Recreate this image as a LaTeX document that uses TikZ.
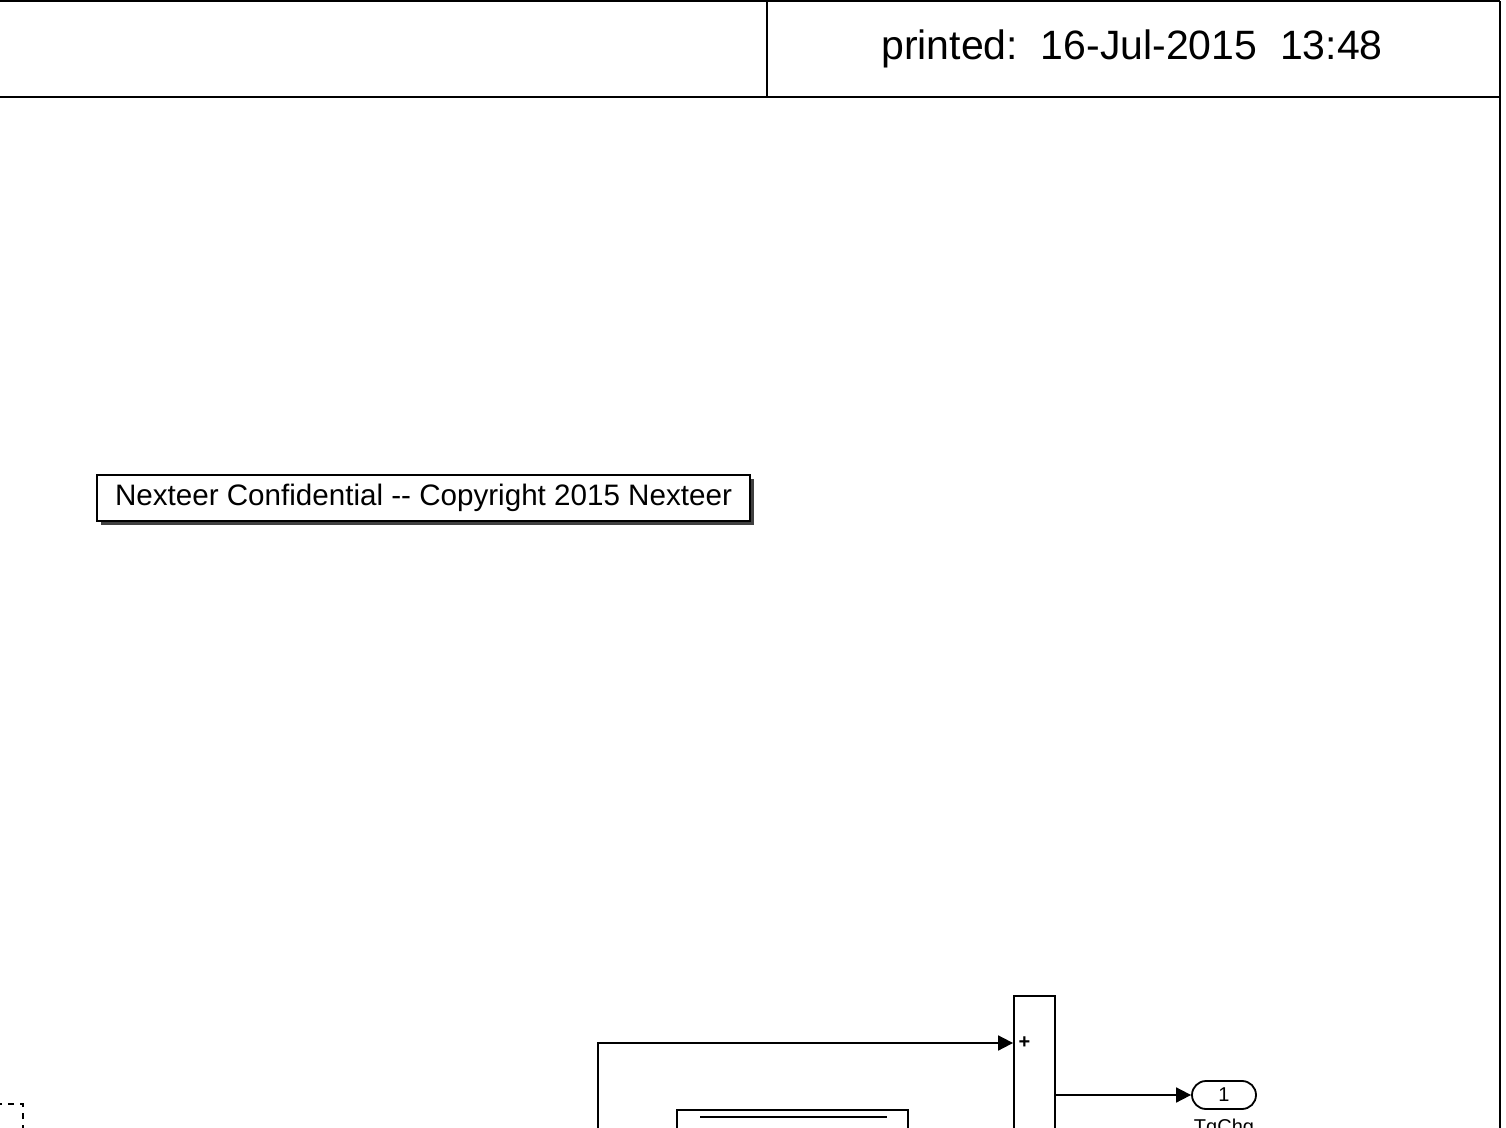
\documentclass[tikz,border=0pt]{standalone}
\usepackage{fontspec}
\setmainfont{Liberation Sans}
\usetikzlibrary{arrows.meta,positioning,shadows}
\tikzset{frame/.style={draw, line width=1.3pt}}
\tikzset{blk/.style={draw, line width=0.9pt, fill=white, inner sep=0pt}}
\tikzset{line/.style={draw, line width=0.9pt, -{Triangle[length=7.5pt,width=7.5pt]}}}
\tikzset{port/.style={draw, line width=0.9pt, rounded corners=7pt, minimum width=32pt, minimum height=14pt, inner sep=0pt, font=\fontsize{10}{12}\selectfont}}

\begin{document}
\begin{tikzpicture}[x=0.5pt, y=-0.5pt]
        \useasboundingbox (0,0) rectangle (1506,1128);
        \clip (0,0) rectangle (1506,1128);
        % header
        \draw [frame] (0,1) -- (1500,1);
        \draw [frame] (0,97) -- (1500,97);
        \draw [frame] (767,1) -- (767,97);
        \draw [frame] (1500,1) -- (1500,1130);
        \node [font=\fontsize{20.5}{24}\selectfont] (date) at (1132,49) {printed:\ \ 16-Jul-2015\ \ 13:48};
        %
        \node [blk, minimum width=326.5pt, minimum height=23pt, font=\fontsize{14.8}{17}\selectfont,
               drop shadow={shadow xshift=2pt, shadow yshift=-2pt, fill=black!75, opacity=1}] (copy) at (423.5,498) {Nexteer Confidential {-}{-} Copyright 2015 Nexteer};
        %
        \node [blk, minimum width=20.5pt, minimum height=99pt] (sum)  at (1034.5,1095) {};
        \node [font=\bfseries\fontsize{10}{11}\selectfont, inner sep=0pt] (plus) at (1024.5,1043) {+};
        \node [port]                                           (out)  at (1224,1095) {1};
        \node [below=4.5pt of out, font=\fontsize{10}{12}\selectfont, inner sep=0pt] (outlbl) {TqChg};
        \node [blk, minimum width=115.5pt, minimum height=40pt, anchor=north] (gain) at (792.5,1109) {};
        \coordinate (gl) at (700,1117);
        \coordinate (gr) at (887,1117);
        \coordinate (tap) at (598,1160);
        %
        \draw [dashed, line width=0.8pt] (-40,1104) rectangle (23,1200);
        \draw [line width=1.3pt] (gl) -- (gr);
        \path [line] (tap) |-       (plus -| sum.west);
        \path [line] (sum.east) --  (out.west);
    \end{tikzpicture}
\end{document}
